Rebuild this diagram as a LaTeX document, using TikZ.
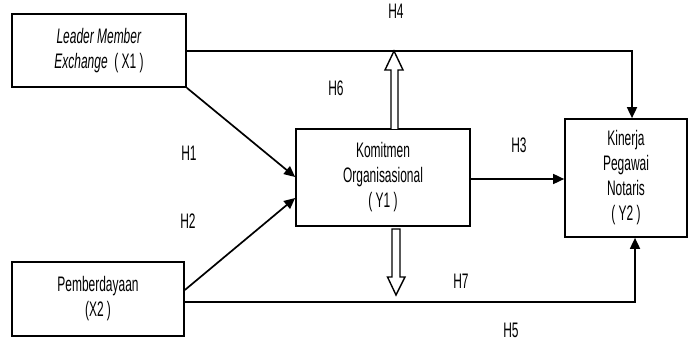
\documentclass[tikz,border=0pt]{standalone}
\usepackage{fontspec}
\setmainfont{Liberation Sans}[FakeStretch=0.57]
\usetikzlibrary{arrows.meta}
\begin{document}
\begin{tikzpicture}[x=1pt,y=-1pt,
  box/.style={draw,line width=1.7pt,minimum width=#1,inner sep=0pt,align=center,font=\fontsize{21}{25}\selectfont},
  conn/.style={line width=1.7pt,-{Triangle[length=11pt,width=10pt]}},
  hollow/.style={draw,line width=1.4pt,fill=white,line join=miter},
  lab/.style={font=\fontsize{21}{22}\selectfont,inner sep=0pt}]
\useasboundingbox (0,0) rectangle (693,342);
\node[box=174pt,minimum height=73pt] (x1) at (99,50.5) {\textit{Leader Member}\\\textit{Exchange}\ \ ( X1 )};
\node[box=174pt,minimum height=97pt] (y1) at (383,177.5) {Komitmen\\Organisasional\\( Y1 )};
\node[box=122pt,minimum height=118pt] (y2) at (626,178) {Kinerja\\Pegawai\\Notaris\\( Y2 )};
\node[box=172pt,minimum height=74pt] (x2) at (98,299) {Pemberdayaan\\(X2 )};
\coordinate (c4) at (632,51);
\coordinate (c5) at (635,302);
\draw[conn] (x1.east |- 0,51) -- (c4) -- (c4 |- y2.north);
\draw[conn] (x2.east |- 0,302) -- (c5) -- (c5 |- y2.south);
\draw[conn] (x1.south east) -- (y1.west |- 0,177);
\draw[conn] (x2.east |- 0,290) -- (y1.west |- 0,198);
\draw[conn] (y1.east |- 0,179) -- (y2.west |- 0,179);
% H6 hollow arrow up
\draw[hollow] (391,129) -- (391,70) -- (385,70) -- (394,51) -- (403,70) -- (398,70) -- (398,129);
% H7 hollow arrow down
\draw[hollow] (392,229) -- (400,229) -- (400,277) -- (405,277) -- (396,295) -- (387.5,277) -- (392,277) -- cycle;
\node[lab] (h4) at (396,11) {H4};
\node[lab] (h6) at (336,88) {H6};
\node[lab] (h1) at (189,153) {H1};
\node[lab] (h2) at (188,221) {H2};
\node[lab] (h3) at (519,145) {H3};
\node[lab] (h7) at (461,281) {H7};
\node[lab] (h5) at (511,330) {H5};
\end{tikzpicture}
\end{document}
